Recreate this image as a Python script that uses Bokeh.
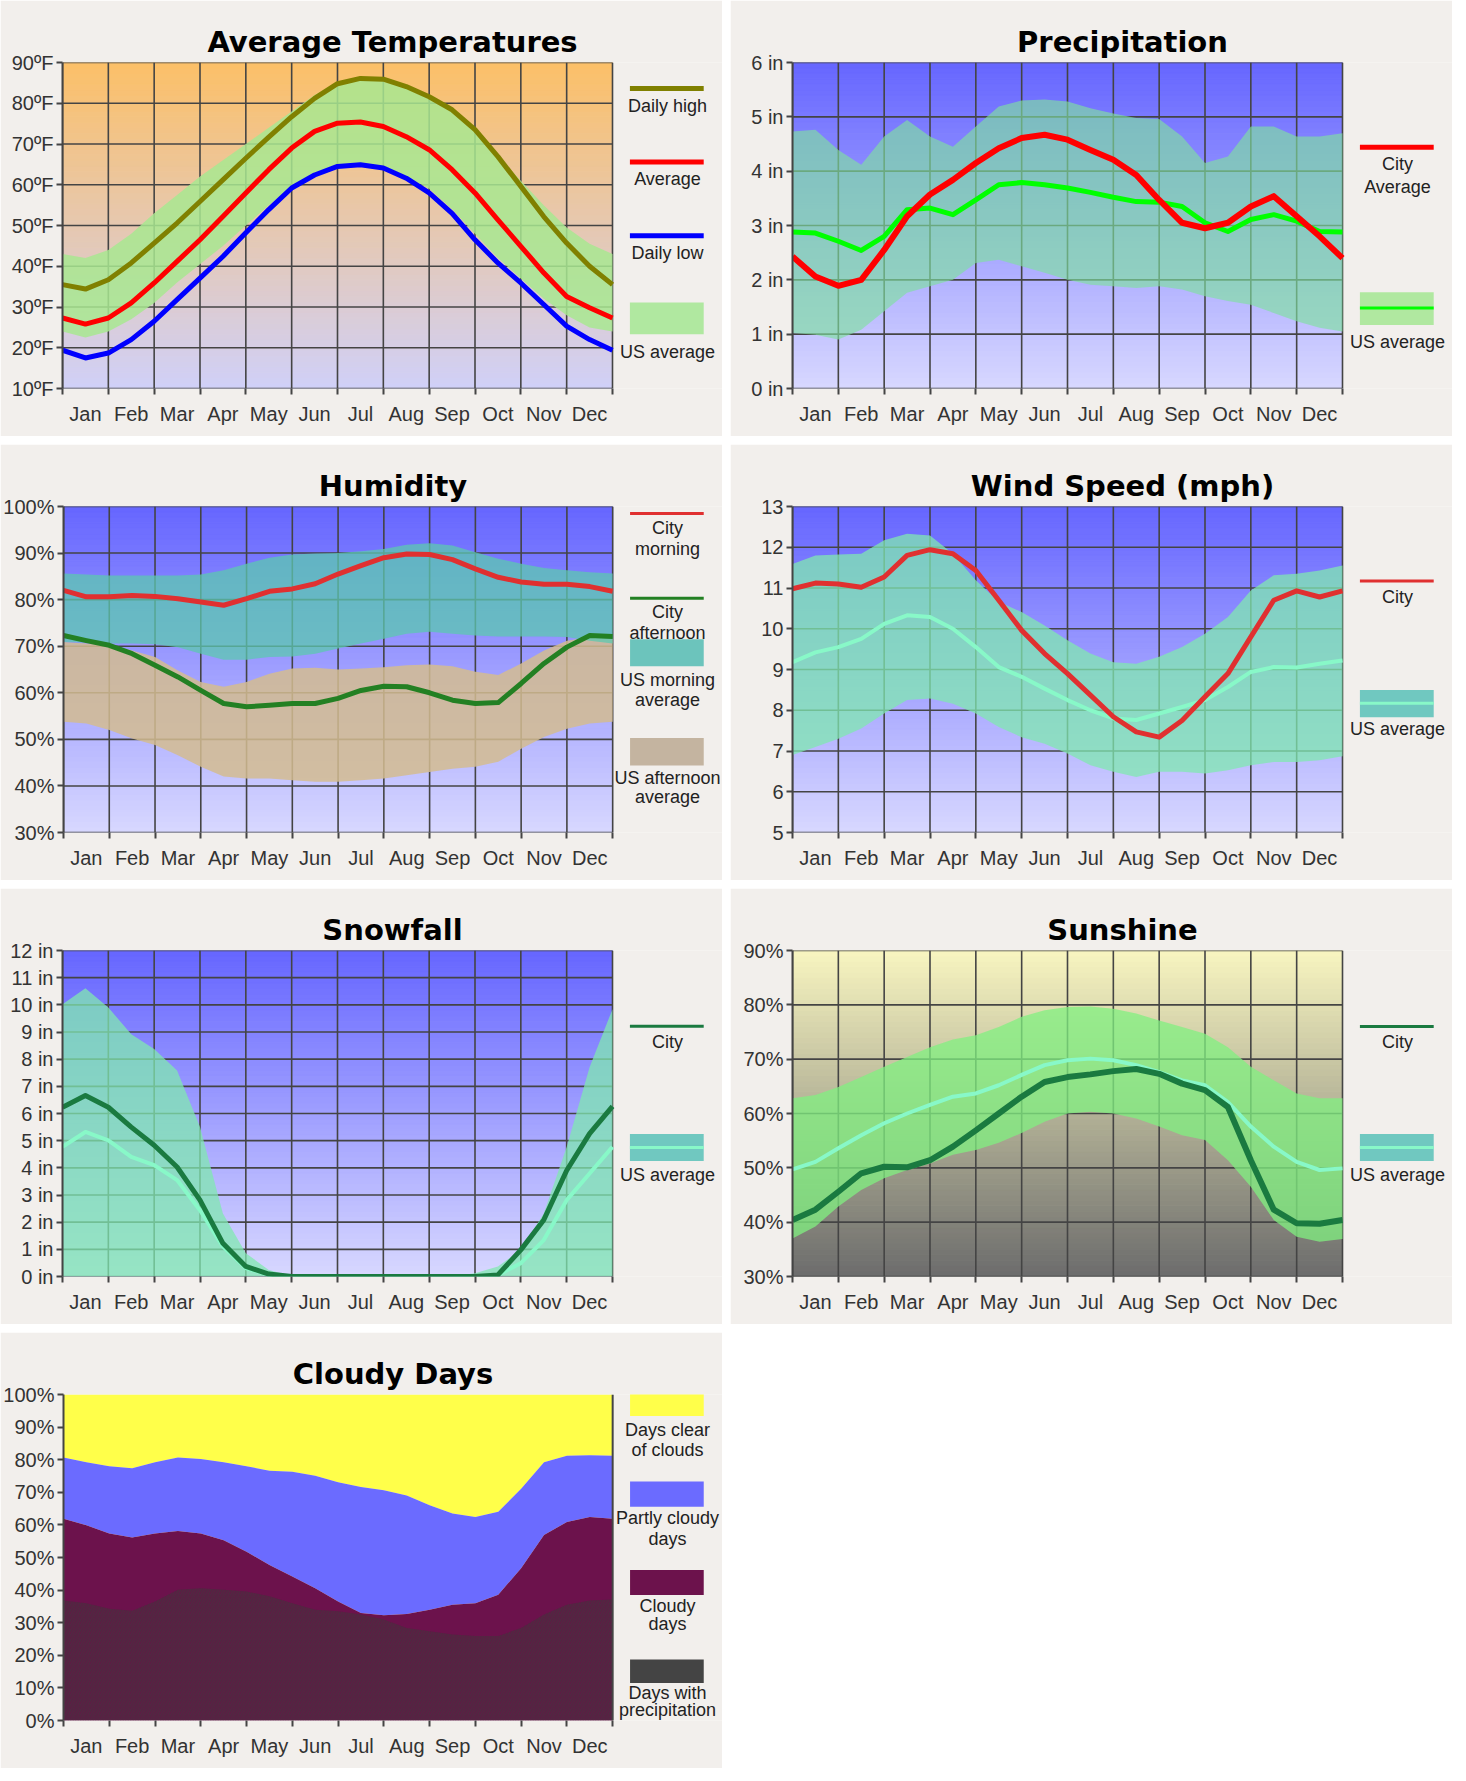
import numpy as np
from bokeh.plotting import figure
from bokeh.layouts import column, row
from bokeh.models import Range1d, FixedTicker, Label
from bokeh.embed import file_html
from bokeh.resources import INLINE

# half-month positions: 0 = start of Jan, 12 = end of Dec
X = [i * 0.5 for i in range(25)]
MONTHS = ["Jan", "Feb", "Mar", "Apr", "May", "Jun", "Jul", "Aug", "Sep", "Oct", "Nov", "Dec"]

# Average Temperatures (F)
temp_ticks = [10, 20, 30, 40, 50, 60, 70, 80, 90]
temp_labels = ["10ºF", "20ºF", "30ºF", "40ºF", "50ºF", "60ºF", "70ºF", "80ºF", "90ºF"]
temp_high = [35.5, 34.4, 36.7, 40.8, 45.7, 50.6, 55.9, 61.2, 66.5, 71.7, 76.7, 81.2, 84.8,
             86.1, 85.9, 84.1, 81.6, 78.4, 73.5, 66.9, 59.6, 52.2, 45.7, 40.0, 35.5]
temp_avg = [27.3, 25.8, 27.3, 31.0, 35.9, 41.2, 46.5, 52.2, 58.0, 63.7, 69.0, 73.1, 75.1,
            75.4, 74.3, 71.8, 68.6, 63.7, 58.0, 51.4, 44.9, 38.4, 32.6, 29.8, 27.3]
temp_low = [19.4, 17.5, 18.7, 22.0, 26.5, 31.8, 37.1, 42.4, 48.2, 53.9, 59.2, 62.4, 64.5,
            64.9, 64.1, 61.6, 58.0, 53.0, 46.5, 40.8, 35.9, 30.6, 25.3, 22.0, 19.4]
temp_us_hi = [43, 42, 44, 48, 53, 57.5, 62, 66, 70, 74, 78, 82, 85,
              86, 86, 84, 81.5, 78, 73.5, 67, 61, 55, 49.5, 45.5, 43]
temp_us_lo = [24, 22.5, 24, 27, 31, 36, 40.5, 45, 50, 55, 59.5, 62.5, 64,
              64.5, 64, 62, 59, 54, 48, 42, 37, 32, 28, 25, 24]

# Precipitation (in)
prec_ticks = [0, 1, 2, 3, 4, 5, 6]
prec_labels = ["0 in", "1 in", "2 in", "3 in", "4 in", "5 in", "6 in"]
prec_city = [2.43, 2.06, 1.89, 2.0, 2.55, 3.17, 3.57, 3.84, 4.15, 4.42, 4.61, 4.67, 4.58,
             4.39, 4.21, 3.93, 3.47, 3.05, 2.95, 3.05, 3.35, 3.54, 3.17, 2.8, 2.4]
prec_us = [2.88, 2.86, 2.71, 2.54, 2.8, 3.29, 3.32, 3.2, 3.47, 3.75, 3.79, 3.75, 3.69,
           3.61, 3.52, 3.44, 3.43, 3.35, 3.05, 2.89, 3.11, 3.2, 3.08, 2.89, 2.88]
prec_us_hi = [4.73, 4.76, 4.39, 4.12, 4.64, 4.94, 4.64, 4.45, 4.82, 5.19, 5.3, 5.32, 5.28,
              5.16, 5.06, 4.98, 4.96, 4.64, 4.15, 4.27, 4.82, 4.82, 4.64, 4.64, 4.7]
prec_us_lo = [1.02, 0.99, 0.9, 1.08, 1.42, 1.76, 1.88, 2.0, 2.31, 2.37, 2.25, 2.13, 2.0,
              1.91, 1.88, 1.85, 1.88, 1.82, 1.7, 1.61, 1.54, 1.39, 1.24, 1.12, 1.05]

# Humidity (%)
hum_ticks = [30, 40, 50, 60, 70, 80, 90, 100]
hum_labels = ["30%", "40%", "50%", "60%", "70%", "80%", "90%", "100%"]
hum_morning = [82, 80.6, 80.6, 80.9, 80.7, 80.2, 79.5, 78.8, 80.2, 81.8, 82.3, 83.4, 85.5,
               87.3, 89, 89.8, 89.7, 88.6, 86.6, 84.8, 83.8, 83.3, 83.3, 82.8, 81.8]
hum_afternoon = [72.3, 71.2, 70.2, 68.4, 65.9, 63.4, 60.5, 57.7, 57, 57.3, 57.7, 57.7, 58.8,
                 60.5, 61.4, 61.3, 60, 58.4, 57.7, 57.9, 62, 66.3, 69.8, 72.3, 72.1]
hum_us_m_hi = [85.6, 85.4, 85.2, 85.2, 85.2, 85.2, 85.4, 86.3, 87.7, 89, 89.7, 89.9, 90,
               90.4, 90.9, 91.8, 92.1, 91.6, 90.2, 88.8, 87.7, 86.8, 86.3, 85.9, 85.6]
hum_us_m_lo = [70.9, 70.8, 70.6, 70.6, 70.4, 69.8, 68.4, 67.1, 67.1, 67.7, 67.8, 68.4, 69.5,
               70.6, 71.6, 72.7, 73.1, 72.7, 72.3, 72.1, 72.1, 72.1, 72, 71.2, 70.6]
hum_us_a_hi = [70.9, 70.6, 70.4, 69.1, 67.7, 64.8, 62.3, 61.3, 62.3, 64.1, 65.2, 65.4, 65,
               65.2, 65.5, 65.9, 66.1, 65.7, 64.5, 63.8, 66.3, 69.1, 71.2, 72, 71.6]
hum_us_a_lo = [53.8, 53.4, 52, 50.2, 48.8, 46.6, 44.1, 42, 41.6, 41.6, 41.2, 40.9, 40.9,
               41.2, 41.6, 42.3, 43, 43.7, 44.1, 45.2, 48, 50.5, 52.3, 53.4, 53.8]

# Wind speed (mph)
wind_ticks = [5, 6, 7, 8, 9, 10, 11, 12, 13]
wind_labels = ["5", "6", "7", "8", "9", "10", "11", "12", "13"]
wind_city = [10.98, 11.12, 11.1, 11.02, 11.27, 11.8, 11.94, 11.84, 11.43, 10.7, 9.96, 9.39, 8.9,
             8.37, 7.84, 7.47, 7.34, 7.75, 8.33, 8.9, 9.8, 10.7, 10.93, 10.78, 10.93]
wind_us = [9.18, 9.42, 9.55, 9.75, 10.12, 10.33, 10.29, 10.0, 9.55, 9.06, 8.82, 8.53, 8.25,
           8.0, 7.8, 7.76, 7.92, 8.08, 8.25, 8.57, 8.94, 9.06, 9.05, 9.14, 9.22]
wind_us_hi = [11.59, 11.8, 11.82, 11.84, 12.17, 12.33, 12.29, 11.84, 11.19, 10.66, 10.41, 10.08, 9.72,
              9.39, 9.18, 9.14, 9.31, 9.55, 9.88, 10.29, 10.94, 11.31, 11.35, 11.43, 11.55]
wind_us_lo = [6.9, 7.1, 7.3, 7.55, 7.92, 8.25, 8.29, 8.16, 7.92, 7.59, 7.34, 7.18, 6.94,
              6.65, 6.49, 6.36, 6.49, 6.49, 6.45, 6.53, 6.65, 6.73, 6.73, 6.77, 6.87]

# Snowfall (in)
snow_ticks = list(range(13))
snow_labels = ["%d in" % v for v in snow_ticks]
snow_city = [6.23, 6.66, 6.23, 5.5, 4.83, 4.03, 2.81, 1.22, 0.37, 0.09, 0, 0, 0,
             0, 0, 0, 0, 0, 0, 0.06, 0.98, 2.08, 3.9, 5.26, 6.26]
snow_us = [4.77, 5.32, 5.01, 4.4, 4.1, 3.55, 2.44, 1.1, 0.31, 0.06, 0, 0, 0,
           0, 0, 0, 0, 0, 0, 0.06, 0.49, 1.34, 2.81, 3.79, 4.77]
snow_us_hi = [10.02, 10.61, 9.9, 8.92, 8.37, 7.58, 5.5, 2.32, 0.86, 0.24, 0.02, 0, 0,
              0, 0, 0, 0, 0, 0.12, 0.37, 0.98, 2.32, 4.77, 7.7, 9.84]

# Sunshine (%)
sun_ticks = [30, 40, 50, 60, 70, 80, 90]
sun_labels = ["30%", "40%", "50%", "60%", "70%", "80%", "90%"]
sun_city = [40.4, 42.3, 45.6, 49, 50.2, 50.1, 51.4, 53.9, 56.9, 60, 63.1, 65.8, 66.7,
            67.2, 67.8, 68.2, 67.3, 65.5, 64.3, 61.2, 51.4, 42.3, 39.8, 39.7, 40.4]
sun_us = [49.7, 51.1, 53.6, 56, 58.2, 60, 61.6, 63.1, 63.7, 65.2, 67.1, 68.9, 69.8,
          70.1, 69.8, 68.9, 67.6, 66.1, 65.2, 62.1, 57.6, 53.9, 51.1, 49.6, 49.9]
sun_us_hi = [62.8, 63.4, 64.9, 66.7, 68.6, 70.4, 72.2, 73.6, 74.4, 75.9, 77.8, 79, 79.6,
             79.7, 79.3, 78.4, 77.1, 75.9, 74.7, 72.2, 68.6, 66.1, 63.7, 62.8, 62.8]
sun_us_lo = [37, 39.2, 42.9, 45.9, 48.1, 49.6, 50.8, 52.4, 53.3, 54.6, 56.4, 58.5, 60,
             60.3, 60, 59.1, 57.6, 56, 55.1, 51.4, 46.5, 40.4, 37.3, 36.4, 36.9]

# Cloudy days (% of days, cumulative boundaries)
cloud_ticks = [0, 10, 20, 30, 40, 50, 60, 70, 80, 90, 100]
cloud_labels = ["%d%%" % v for v in cloud_ticks]
clear_bottom = [80.7, 79.2, 78, 77.4, 79.2, 80.7, 80.2, 79.2, 78, 76.6, 76.3, 75.1, 73.1,
                71.6, 70.6, 69, 66, 63.5, 62.4, 64, 71.1, 79.2, 81.2, 81.4, 81.2]
cloudy_top = [61.9, 59.9, 57.4, 56.1, 57.4, 58.1, 57.4, 55.3, 51.8, 47.7, 44.2, 40.6, 36.5,
              33, 32.3, 32.7, 34, 35.5, 36, 38.6, 46.7, 56.9, 60.9, 62.4, 61.9]
precip_top = [36.8, 36, 34.3, 33.7, 36.5, 40.1, 40.6, 40.1, 39.6, 38.1, 36, 34, 33.5,
              32.5, 31, 28.4, 27.4, 26.4, 25.9, 25.9, 28.4, 32.5, 35.5, 36.8, 37.1]

PANEL = "#f2efec"
TICK_FONT = "Liberation Sans"
LEG_X0, LEG_X1, LEG_XC = 12.38, 13.99, 13.2


def blend(c1, c2, t):
    a = [int(c1[i:i + 2], 16) for i in (1, 3, 5)]
    b = [int(c2[i:i + 2], 16) for i in (1, 3, 5)]
    return "#%02x%02x%02x" % tuple(int(round(a[k] + (b[k] - a[k]) * t)) for k in range(3))


def make_fig(title, y0, y1, ticks, labels):
    p = figure(width=722, height=436, x_range=Range1d(0, 14.4), y_range=Range1d(y0, y1),
               output_backend="svg", toolbar_location=None, title=title,
               min_border_left=62, min_border_right=0, min_border_top=62, min_border_bottom=48,
               background_fill_color=PANEL, border_fill_color=PANEL, outline_line_color=None)
    p.title.text_font = "DejaVu Sans"
    p.title.text_font_style = "bold"
    p.title.text_font_size = "29px"
    p.title.text_color = "#000000"
    p.title.align = "center"
    p.title.offset = -42
    p.title.standoff = 8
    p.grid.visible = False

    p.xaxis.ticker = FixedTicker(ticks=[m + 0.5 for m in range(12)], minor_ticks=list(range(13)))
    p.xaxis.major_label_overrides = {m + 0.5: MONTHS[m] for m in range(12)}
    p.xaxis.axis_line_color = None
    p.xaxis.major_tick_out = 0
    p.xaxis.major_tick_in = 0
    p.xaxis.minor_tick_out = 6
    p.xaxis.minor_tick_in = 0
    p.xaxis.minor_tick_line_color = "#444444"
    p.xaxis.minor_tick_line_width = 2

    p.yaxis.ticker = FixedTicker(ticks=ticks, minor_ticks=[])
    p.yaxis.major_label_overrides = dict(zip(ticks, labels))
    p.yaxis.axis_line_color = "#444444"
    p.yaxis.axis_line_width = 2
    p.yaxis.major_tick_out = 6
    p.yaxis.major_tick_in = 0
    p.yaxis.major_tick_line_color = "#444444"
    p.yaxis.major_tick_line_width = 2
    p.yaxis.major_label_standoff = 3
    for ax in (p.xaxis, p.yaxis):
        ax.major_label_text_font = TICK_FONT
        ax.major_label_text_font_size = "20px"
        ax.major_label_text_color = "#333333"
    p.xaxis.major_label_standoff = 8
    return p


def gradient(p, y0, y1, top, bottom, n=60):
    ys = np.linspace(y0, y1, n + 1)
    cols = [blend(bottom, top, (k + 0.5) / n) for k in range(n)]
    p.quad(left=0, right=12, bottom=ys[:-1], top=ys[1:], fill_color=cols, line_color=cols, line_width=1)


def grid(p, y0, y1, ticks):
    p.segment(x0=list(range(13)), x1=list(range(13)), y0=y0, y1=y1, line_color="#444444", line_width=1.6)
    p.segment(x0=0, x1=12, y0=ticks, y1=ticks, line_color="#444444", line_width=1.6)


def ltext(p, y, text):
    p.add_layout(Label(x=LEG_XC, y=y, text=text, text_align="center", text_baseline="middle",
                       text_font=TICK_FONT, text_font_size="18px", text_color="#222222"))


def lline(p, y, color, width=5):
    p.segment(x0=LEG_X0, x1=LEG_X1, y0=y, y1=y, line_color=color, line_width=width)


def lbox(p, b, t, color, alpha=1.0):
    p.quad(left=LEG_X0, right=LEG_X1, bottom=b, top=t, fill_color=color, fill_alpha=alpha, line_color=None)


# ---- Average Temperatures
p1 = make_fig("Average Temperatures", 10, 90, temp_ticks, temp_labels)
gradient(p1, 10, 90, "#fcc068", "#d0d0f8")
grid(p1, 10, 90, temp_ticks)
p1.varea(x=X, y1=temp_us_lo, y2=temp_us_hi, fill_color="#a8e890", fill_alpha=0.85)
p1.line(X, temp_high, line_color="#808000", line_width=5, line_join="round")
p1.line(X, temp_avg, line_color="#ff0000", line_width=5, line_join="round")
p1.line(X, temp_low, line_color="#0000ff", line_width=5, line_join="round")
lline(p1, 83.6, "#808000")
ltext(p1, 79.4, "Daily high")
lline(p1, 65.6, "#ff0000")
ltext(p1, 61.4, "Average")
lline(p1, 47.5, "#0000ff")
ltext(p1, 43.3, "Daily low")
lbox(p1, 23.3, 31.1, "#b0e8a0")
ltext(p1, 18.9, "US average")

# ---- Precipitation
p2 = make_fig("Precipitation", 0, 6, prec_ticks, prec_labels)
gradient(p2, 0, 6, "#6666ff", "#d8d8ff")
grid(p2, 0, 6, prec_ticks)
p2.varea(x=X, y1=prec_us_lo, y2=prec_us_hi, fill_color="#80e0a0", fill_alpha=0.65)
p2.line(X, prec_us, line_color="#00ff00", line_width=5, line_join="round")
p2.line(X, prec_city, line_color="#ff0000", line_width=6, line_join="round")
lline(p2, 4.44, "#ff0000")
ltext(p2, 4.13, "City")
ltext(p2, 3.71, "Average")
lbox(p2, 1.17, 1.77, "#b0e8a0")
lline(p2, 1.48, "#00ff00", 3)
ltext(p2, 0.85, "US average")

# ---- Humidity
p3 = make_fig("Humidity", 30, 100, hum_ticks, hum_labels)
gradient(p3, 30, 100, "#6666ff", "#d8d8ff")
grid(p3, 30, 100, hum_ticks)
p3.varea(x=X, y1=hum_us_a_lo, y2=hum_us_a_hi, fill_color="#d4bc90", fill_alpha=0.85)
p3.varea(x=X, y1=hum_us_m_lo, y2=hum_us_m_hi, fill_color="#5cc8b0", fill_alpha=0.75)
p3.line(X, hum_morning, line_color="#e03030", line_width=5, line_join="round")
p3.line(X, hum_afternoon, line_color="#238023", line_width=5, line_join="round")
lline(p3, 98.5, "#e03030", 3)
ltext(p3, 95.4, "City")
ltext(p3, 90.8, "morning")
lline(p3, 80.3, "#238023", 3)
ltext(p3, 77.4, "City")
ltext(p3, 72.8, "afternoon")
lbox(p3, 65.7, 71.5, "#6cc4bc")
ltext(p3, 62.7, "US morning")
ltext(p3, 58.5, "average")
lbox(p3, 44.4, 50.3, "#c4b4a0")
ltext(p3, 41.7, "US afternoon")
ltext(p3, 37.6, "average")

# ---- Wind Speed
p4 = make_fig("Wind Speed (mph)", 5, 13, wind_ticks, wind_labels)
gradient(p4, 5, 13, "#6666ff", "#d8d8ff")
grid(p4, 5, 13, wind_ticks)
p4.varea(x=X, y1=wind_us_lo, y2=wind_us_hi, fill_color="#80e8b0", fill_alpha=0.75)
p4.line(X, wind_us, line_color="#88f8c8", line_width=4, line_join="round")
p4.line(X, wind_city, line_color="#e03030", line_width=5, line_join="round")
lline(p4, 11.17, "#e03030", 3)
ltext(p4, 10.78, "City")
lbox(p4, 7.83, 8.5, "#70c8c0")
lline(p4, 8.17, "#88f8c8", 3)
ltext(p4, 7.53, "US average")

# ---- Snowfall
p5 = make_fig("Snowfall", 0, 12, snow_ticks, snow_labels)
gradient(p5, 0, 12, "#6666ff", "#d8d8ff")
grid(p5, 0, 12, snow_ticks)
p5.varea(x=X, y1=0, y2=snow_us_hi, fill_color="#80e8b0", fill_alpha=0.75)
p5.line(X, snow_us, line_color="#88f8c8", line_width=4, line_join="round")
p5.line(X, snow_city, line_color="#1a7a40", line_width=5, line_join="round")
lline(p5, 9.21, "#1a7a40", 3)
ltext(p5, 8.63, "City")
lbox(p5, 4.25, 5.25, "#70c8c0")
lline(p5, 4.75, "#88f8c8", 3)
ltext(p5, 3.75, "US average")

# ---- Sunshine
p6 = make_fig("Sunshine", 30, 90, sun_ticks, sun_labels)
gradient(p6, 30, 90, "#f8f5c0", "#6c6c6c")
grid(p6, 30, 90, sun_ticks)
p6.varea(x=X, y1=sun_us_lo, y2=sun_us_hi, fill_color="#80f080", fill_alpha=0.75)
p6.line(X, sun_us, line_color="#88f8c8", line_width=4, line_join="round")
p6.line(X, sun_city, line_color="#1a7a40", line_width=6, line_join="round")
lline(p6, 76.0, "#1a7a40", 3)
ltext(p6, 73.1, "City")
lbox(p6, 51.25, 56.25, "#70c8c0")
lline(p6, 53.75, "#88f8c8", 3)
ltext(p6, 48.75, "US average")

# ---- Cloudy Days
p7 = make_fig("Cloudy Days", 0, 100, cloud_ticks, cloud_labels)
p7.varea(x=X, y1=clear_bottom, y2=100, fill_color="#ffff4a")
p7.varea(x=X, y1=cloudy_top, y2=clear_bottom, fill_color="#6b6bff")
p7.varea(x=X, y1=0, y2=cloudy_top, fill_color="#6c124c")
p7.varea(x=X, y1=0, y2=precip_top, fill_color="#5c1c44", hatch_pattern="/",
         hatch_color="#3c3c3c", hatch_alpha=0.6, hatch_scale=5, hatch_weight=1)
p7.segment(x0=12, x1=12, y0=0, y1=100, line_color="#444444", line_width=2)
lbox(p7, 93.4, 101, "#ffff4a")
ltext(p7, 89.2, "Days clear")
ltext(p7, 83.0, "of clouds")
lbox(p7, 65.6, 73.3, "#6b6bff")
ltext(p7, 62.2, "Partly cloudy")
ltext(p7, 55.6, "days")
lbox(p7, 38.5, 46.2, "#6c124c")
ltext(p7, 35.1, "Cloudy")
ltext(p7, 29.5, "days")
lbox(p7, 11.5, 18.75, "#444444")
ltext(p7, 8.3, "Days with")
ltext(p7, 3.2, "precipitation")

layout = column(row(p1, p2, spacing=8), row(p3, p4, spacing=8), row(p5, p6, spacing=8), row(p7),
                spacing=8)
open("out.html", "w").write(file_html(layout, INLINE))
